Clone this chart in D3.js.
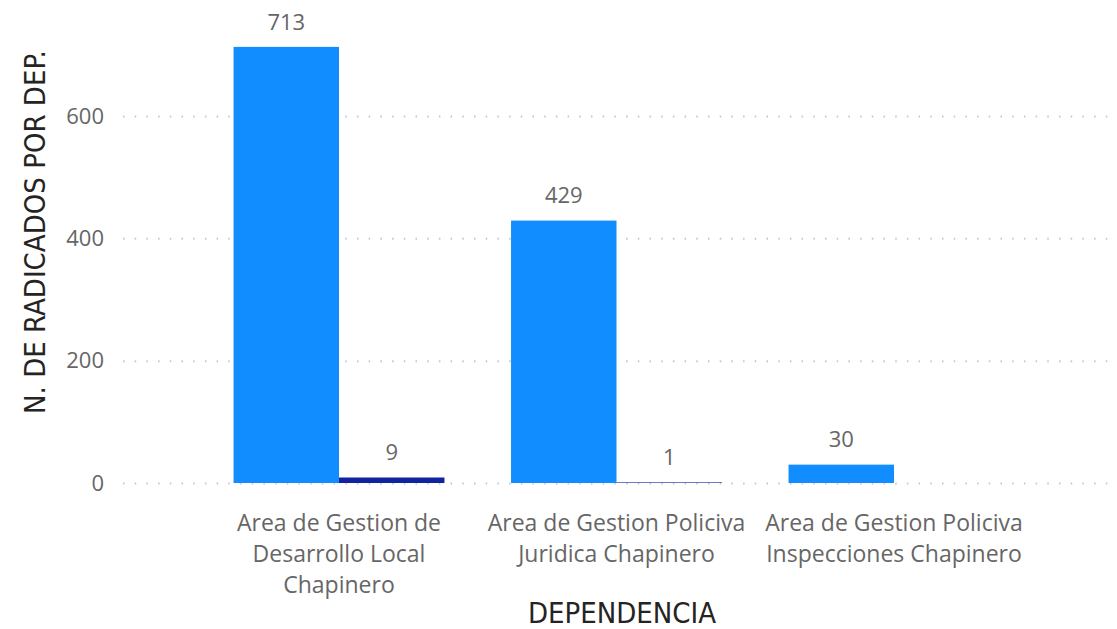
<!DOCTYPE html>
<html>
<head>
<meta charset="utf-8">
<script src="https://cdn.jsdelivr.net/npm/d3@7"></script>
<style>
  html, body { margin: 0; padding: 0; background: #fff; }
  #chart { width: 1117px; height: 629px; }
</style>
</head>
<body>
<div id="chart"></div>
<script>
const categories = [
    "Area de Gestion de Desarrollo Local Chapinero",
    "Area de Gestion Policiva Juridica Chapinero",
    "Area de Gestion Policiva Inspecciones Chapinero"
];
const seriesNames = ["Radicados", "Otros"];
const seriesA = [713, 429, 30];
const seriesB = [9, 1, null];
const yTicks = [0, 200, 400, 600];
const xTitle = "DEPENDENCIA";
const yTitle = "N. DE RADICADOS POR DEP.";

document.addEventListener('DOMContentLoaded', () => {
    const width = 1117;
    const height = 629;
    const labelFont = "'Segoe UI', 'Open Sans', sans-serif";
    const titleFont = "'DejaVu Sans Condensed', 'DejaVu Sans', sans-serif";

    const rows = categories.map((c, i) => ({
        category: c,
        values: [
            { key: seriesNames[0], value: seriesA[i] },
            { key: seriesNames[1], value: seriesB[i] }
        ]
    }));

    const color = d3.scaleOrdinal()
        .domain(seriesNames)
        .range(["#118DFF", "#12239E"]);

    const svg = d3.create("svg")
        .attr("width", width)
        .attr("height", height)
        .attr("viewBox", [0, 0, width, height]);

    // attach early so text can be measured for wrapping
    document.getElementById("chart").appendChild(svg.node());

    const x = d3.scaleBand()
        .domain(categories)
        .range([200.25, 1032.75])
        .paddingInner(0.24)
        .paddingOuter(0.12);

    const xs = d3.scaleBand()
        .domain(seriesNames)
        .range([0, x.bandwidth()]);

    const y = d3.scaleLinear()
        .domain([0, 600])
        .range([483, 116]);

    // gridlines (dotted), including the zero line
    const yAxis = svg.append("g")
        .attr("transform", "translate(123,0)")
        .call(d3.axisLeft(y).tickValues(yTicks).tickSize(-(1110 - 123)).tickPadding(19));
    yAxis.select(".domain").remove();
    yAxis.selectAll(".tick line")
        .attr("stroke", "#c8c6c4")
        .attr("stroke-width", 2)
        .attr("stroke-dasharray", "1.5,10.2");
    yAxis.selectAll(".tick text")
        .attr("fill", "#666666")
        .attr("font-family", labelFont)
        .attr("font-size", 22);

    // bars
    const group = svg.append("g")
        .selectAll("g")
        .data(rows)
        .join("g")
        .attr("transform", d => `translate(${x(d.category)},0)`);

    const bar = group.selectAll("g")
        .data(d => d.values.filter(v => v.value != null))
        .join("g");

    bar.append("rect")
        .attr("x", d => xs(d.key))
        .attr("width", xs.bandwidth())
        .attr("y", d => y(d.value))
        .attr("height", d => y(0) - y(d.value))
        .attr("fill", d => color(d.key));

    bar.append("text")
        .attr("x", d => xs(d.key) + xs.bandwidth() / 2)
        .attr("y", d => y(d.value) - 25)
        .attr("dy", "0.35em")
        .attr("text-anchor", "middle")
        .attr("fill", "#666666")
        .attr("font-family", labelFont)
        .attr("font-size", 22)
        .text(d => d3.format(",")(d.value));

    // category labels, wrapped
    const xLabels = svg.append("g")
        .selectAll("text")
        .data(categories)
        .join("text")
        .attr("x", d => x(d) + x.bandwidth() / 2)
        .attr("y", 523)
        .attr("text-anchor", "middle")
        .attr("fill", "#666666")
        .attr("font-family", labelFont)
        .attr("font-size", 23);

    xLabels.each(function (d) {
        const text = d3.select(this);
        const words = d.split(" ");
        const maxW = x.step() * 0.95;
        let line = [];
        const lines = [];
        const probe = text.append("tspan");
        words.forEach(w => {
            probe.text(line.concat(w).join(" "));
            if (probe.node().getComputedTextLength() > maxW && line.length) {
                lines.push(line.join(" "));
                line = [w];
            } else {
                line.push(w);
            }
        });
        lines.push(line.join(" "));
        probe.remove();
        lines.forEach((l, i) => {
            text.append("tspan")
                .attr("x", x(d) + x.bandwidth() / 2)
                .attr("dy", i === 0 ? "0.35em" : 31)
                .text(l);
        });
    });

    // axis titles
    svg.append("text")
        .attr("x", 622)
        .attr("y", 613)
        .attr("dy", "0.35em")
        .attr("text-anchor", "middle")
        .attr("fill", "#252423")
        .attr("font-family", titleFont)
        .attr("font-size", 29)
        .text(xTitle);

    svg.append("text")
        .attr("transform", "translate(35,232) rotate(-90)")
        .attr("dy", "0.35em")
        .attr("text-anchor", "middle")
        .attr("fill", "#252423")
        .attr("font-family", titleFont)
        .attr("font-size", 29)
        .text(yTitle);
});
</script>
</body>
</html>
